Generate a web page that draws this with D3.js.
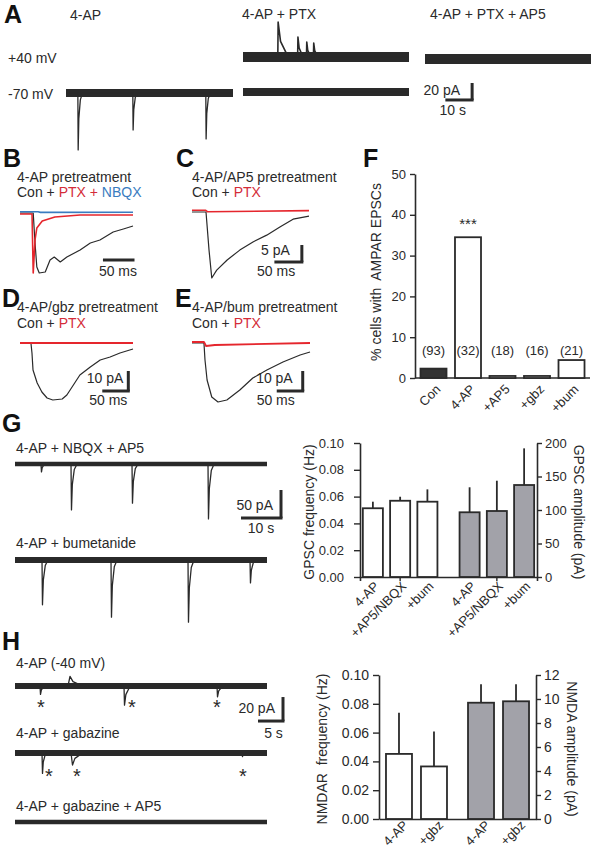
<!DOCTYPE html>
<html><head><meta charset="utf-8">
<script src="https://cdnjs.cloudflare.com/ajax/libs/d3/7.8.5/d3.min.js"></script>
<style>
body{margin:0;background:#fff}
svg{display:block}
text{font-family:"Liberation Sans",Arial,Helvetica,sans-serif}
</style>
</head><body>
<script>
// ================= DATA =================
// Panel A: sweeps of 62 s; events as [time s, amplitude pA, decay s]
const aDuration = 62;
const aEvents4APm70 = [[4.4,-67,0.8],[24.8,-43.5,0.8],[51.9,-54,0.8]];
const aEventsPTXp40 = [[13.0,41,3],[20.4,23.5,1.5],[23.7,17.6,1.2],[26.3,16.5,1.2]];
const aEventsPTXm70 = [];
const aEventsAP5p40 = [];

// Panels B-E: averaged EPSCs, time (ms) and current (pA)
const bTime = [0,20,22,25,28,32,42,50,57,67,78,100,117,133,155,172,188];
const bCon  = [0,0,0,-15,-27,-30,-29.5,-23.5,-22,-24.5,-22,-18.5,-15,-13.5,-9.5,-8,-6.5];
const bPtxTime = [0,20,22,25,28,37,58,100,188];
const bPtx  = [-0.5,-0.5,-30,-13.5,-7.5,-4,-2,-1,-1];
const bNbqxTime = [0,30,34,188];
const bNbqx = [0.6,0.6,0.3,0.4];

const cTime = [0,25.5,31,36,45,64,87,111,136,160,184,213];
const cCon  = [-0.3,-0.3,-11.5,-19.7,-17.4,-14.4,-11.5,-9.1,-7.1,-4.7,-2.4,-1.5];
const cPtxTime = [0,25,28,213];
const cPtx  = [0.2,0.2,-0.2,0.1];

const dTime = [0,21,23,25,33,42,52,63,81,90,100,115,135,154,173,192,217];
const dCon  = [0,0,-5,-13.5,-20,-24.5,-27.5,-28.5,-28,-26,-22,-16,-12,-8.5,-7,-5,-3];
const dPtxTime = [0,217];
const dPtx  = [0,0];

const eTime = [0,23,25,29,38,50,67,92,117,144,175,208,227];
const eCon  = [0,0,-8.5,-18.5,-27,-29.5,-28.5,-23.5,-17.5,-13.5,-9.5,-6,-4.5];
const ePtxTime = [0,23,27,44,227];
const ePtx  = [0.5,0.5,-1.5,-1,0];

// Panel F
const fCategories = ["Con","4-AP","+AP5","+gbz","+bum"];
const fValues = [2.3,34.5,0.5,0.5,4.4];
const fCounts = ["(93)","(32)","(18)","(16)","(21)"];
const fYTicks = [0,10,20,30,40,50];

// Panel G traces: [time s, amplitude pA, decay s]
const gDuration = 63;
const gEventsNBQX = [[6.5,-14,0.6],[14.0,-82,0.7],[29.25,-70,0.7],[48.25,-98,0.7]];
const gEventsBum  = [[6.75,-80,0.7],[24.0,-102,0.7],[43.25,-111,0.7],[58.75,-41,0.7]];
// Panel G bars
const gCategories = ["4-AP","+AP5/NBQX","+bum"];
const gFreq    = [0.0513,0.0569,0.0562];
const gFreqErr = [0.0049,0.0030,0.0092];
const gAmp     = [96.6,98.5,137.3];
const gAmpErr  = [37.3,45.2,54.7];
const gFreqTicks = [0,0.02,0.04,0.06,0.08,0.10];
const gAmpTicks  = [0,50,100,150,200];

// Panel H traces: [time s, amplitude pA, decay s, rise s]
const hDuration = 50.4;
const hEvents40mV = [[5.0,-7,0.6,0.1],[10.6,8,2.0,0.4],[21.8,-16,0.9,0.1],[40.4,-9,0.8,0.1]];
const hStars40mV  = [5.2,23.4,40.4];
const hEventsGbz  = [[5.4,-17,0.5,0.1],[11.2,-10,1.6,0.3],[45.4,-3,0.5,0.1]];
const hStarsGbz   = [6.8,12.4,45.6];
const hEventsAP5  = [];
// Panel H bars
const hCategories = ["4-AP","+gbz"];
const hFreq    = [0.0452,0.0365];
const hFreqErr = [0.0285,0.0242];
const hAmp     = [9.69,9.81];
const hAmpErr  = [1.53,1.41];
const hFreqTicks = [0,0.02,0.04,0.06,0.08,0.10];
const hAmpTicks  = [0,2,4,6,8,10,12];

// ================= DRAWING =================
const W = 592, H = 852;
const INK = "#2a2a2a", BAND = "#2a2a2a", RED = "#e5262d", RED_TXT = "#d42c38", BLUE = "#3a7cc0", GRAY = "#a2a2a9";
const svg = d3.select("body").append("svg").attr("width", W).attr("height", H);

function txt(x, y, s, o = {}) {
  return svg.append("text").attr("x", x).attr("y", y).text(s)
    .attr("font-size", o.size || 14).attr("font-weight", o.weight || null)
    .attr("text-anchor", o.anchor || "start").attr("fill", o.fill || INK);
}
function richTxt(x, y, parts, size = 14) {
  const t = svg.append("text").attr("x", x).attr("y", y).attr("font-size", size).style("white-space", "pre");
  parts.forEach(([s, c]) => t.append("tspan").text(s).attr("fill", c));
  return t;
}
function panel(x0, x1, t1, base, pxPerUnit) {
  return {
    x: d3.scaleLinear().domain([0, t1]).range([x0, x1]),
    y: d3.scaleLinear().domain([0, 1]).range([base, base - pxPerUnit]),
    t1
  };
}
function drawLine(sc, pts, color, width) {
  svg.append("path").datum(pts)
    .attr("d", d3.line().x(d => sc.x(d[0])).y(d => sc.y(d[1])))
    .attr("fill", "none").attr("stroke", color).attr("stroke-width", width)
    .attr("stroke-linejoin", "round");
}
function eventPath(duration, events) {
  const pts = [[0, 0]];
  events.forEach(e => {
    const [t, a, dec, rise = 0.12] = e;
    pts.push([t, 0], [t + rise, a], [t + rise + dec * 0.3, a * 0.45], [t + rise + dec, a * 0.12], [t + rise + dec * 2, 0]);
  });
  pts.push([duration, 0]);
  return pts;
}
function sweep(sc, events, band, lw = 1.3) {
  drawLine(sc, [[0, 0], [sc.t1, 0]], BAND, band);
  drawLine(sc, eventPath(sc.t1, events), INK, lw);
}
function scaleBar(sc, tCorner, iCorner, dt, di, tLabel, iLabel, o = {}) {
  const xc = sc.x(tCorner), yc = sc.y(iCorner);
  const xl = sc.x(tCorner - dt);
  const g = svg.append("g").attr("stroke", INK).attr("stroke-width", 3).attr("fill", "none");
  g.append("line").attr("x1", xl).attr("x2", xc + 1.5).attr("y1", yc).attr("y2", yc);
  if (di) {
    const yt = sc.y(iCorner + di);
    g.append("line").attr("x1", xc).attr("x2", xc).attr("y1", yc).attr("y2", yt);
    txt(xc - (o.iGap || 8), (yc + yt) / 2 + (o.iDy || 5), iLabel, { anchor: "end", size: o.size || 14 });
  }
  txt((xl + xc) / 2 + (o.tDx || 0), yc + (o.tDy || 16), tLabel, { anchor: "middle", size: o.size || 14 });
}
function zipLine(t, v) { return d3.zip(t, v); }
function styleAxis(g, size) {
  g.select(".domain").attr("stroke", INK).attr("stroke-width", 1.6);
  g.selectAll(".tick line").attr("stroke", INK).attr("stroke-width", 1.4);
  g.selectAll(".tick text").attr("fill", INK).attr("font-size", size)
    .attr("font-family", '"Liberation Sans",Arial,sans-serif');
}

// ---------- panel letters ----------
[["A",4,23],["B",3,167],["C",176,167],["D",2,307],["E",175,307],["F",363,167],["G",2,432],["H",2,650]]
  .forEach(([l, x, y]) => txt(x, y, l, { size: 25, weight: "bold", fill: "#111" }));

// ---------- Panel A ----------
txt(70, 20, "4-AP");
txt(242, 19, "4-AP + PTX");
txt(430, 19, "4-AP + PTX + AP5");
txt(8, 63, "+40 mV");
txt(8, 99, "-70 mV");
const pA1 = panel(66, 233, aDuration, 93, 0.85);
const pA2 = panel(243, 409, aDuration, 57, 0.85);
const pA3 = panel(243, 409, aDuration, 92, 0.85);
const pA4 = panel(425, 591, aDuration, 59, 0.85);
sweep(pA1, aEvents4APm70, 8);
sweep(pA2, aEventsPTXp40, 10, 1.6);
sweep(pA3, aEventsPTXm70, 8);
sweep(pA4, aEventsAP5p40, 10);
scaleBar(pA4, 17.6, -48.2, 10, 20, "10 s", "20 pA", { iGap: 12, iDy: 4, tDx: -6, tDy: 15 });

// ---------- Panels B-E ----------
txt(17, 182, "4-AP pretreatment");
richTxt(17, 197, [["Con + ", INK], ["PTX + ", RED_TXT], ["NBQX", BLUE]]);
txt(192, 182, "4-AP/AP5 pretreatment");
richTxt(192, 197, [["Con + ", INK], ["PTX", RED_TXT]]);
txt(17, 312, "4-AP/gbz pretreatment");
richTxt(17, 328, [["Con + ", INK], ["PTX", RED_TXT]]);
txt(192, 312, "4-AP/bum pretreatment");
richTxt(192, 328, [["Con + ", INK], ["PTX", RED_TXT]]);

const pB = panel(20, 133, 188, 213, 2);
const pC = panel(192, 309, 213, 211, 3.4);
const pD = panel(20, 133, 217, 343, 2);
const pE = panel(192, 310, 227, 343, 2);

drawLine(pB, zipLine(bTime, bCon), INK, 1.2);
drawLine(pB, zipLine(bNbqxTime, bNbqx), BLUE, 1.6);
drawLine(pB, zipLine(bPtxTime, bPtx), RED, 1.6);
scaleBar(pB, 188, -23.5, 50, 0, "50 ms", "", { tDy: 16 });

drawLine(pC, zipLine(cTime, cCon), INK, 1.2);
drawLine(pC, zipLine(cPtxTime, cPtx), RED, 1.6);
scaleBar(pC, 200, -15, 50, 5, "50 ms", "5 pA", { iGap: 12, iDy: 1, tDx: -12, tDy: 14 });

drawLine(pD, zipLine(dTime, dCon), INK, 1.2);
drawLine(pD, zipLine(dPtxTime, dPtx), RED, 1.8);
scaleBar(pD, 208, -24, 50, 10, "50 ms", "10 pA", { iGap: 5, iDy: 2, tDx: -7, tDy: 14 });

drawLine(pE, zipLine(eTime, eCon), INK, 1.2);
drawLine(pE, zipLine(ePtxTime, ePtx), RED, 1.8);
scaleBar(pE, 213, -24, 50, 10, "50 ms", "10 pA", { iGap: 10, iDy: 2, tDx: -14, tDy: 14 });

// ---------- Panel F ----------
{
  const x = d3.scaleBand().domain(fCategories).range([415, 590]).paddingInner(0.246).paddingOuter(0.159);
  const y = d3.scaleLinear().domain([0, 50]).range([378, 174]);
  const ax = svg.append("g").attr("transform", "translate(415,0)")
    .call(d3.axisLeft(y).tickValues(fYTicks).tickSize(5).tickSizeOuter(0).tickPadding(4));
  styleAxis(ax, 13);
  svg.append("line").attr("x1", 415).attr("x2", 590).attr("y1", y(0)).attr("y2", y(0)).attr("stroke", INK).attr("stroke-width", 1.6);
  svg.append("g").selectAll("rect").data(fCategories).join("rect")
    .attr("x", d => x(d)).attr("width", x.bandwidth())
    .attr("y", (d, i) => y(fValues[i])).attr("height", (d, i) => y(0) - y(fValues[i]))
    .attr("fill", (d, i) => i === 0 ? "#333" : "#fff").attr("stroke", INK).attr("stroke-width", 1.8);
  fCategories.forEach((c, i) => {
    const cx = x(c) + x.bandwidth() / 2;
    txt(cx, 355, fCounts[i], { anchor: "middle", size: 13 });
    txt(cx + 8, 390, c, { anchor: "end", size: 13 }).attr("transform", `rotate(-45,${cx + 8},390)`);
  });
  txt(x("4-AP") + x.bandwidth() / 2, y(fValues[1]) - 8, "***", { anchor: "middle", size: 15 });
  svg.append("text").attr("transform", "translate(381,272) rotate(-90)").attr("text-anchor", "middle")
    .attr("font-size", 14).attr("fill", INK).style("white-space", "pre").text("% cells with  AMPAR EPSCs");
}

// ---------- Panel G traces ----------
txt(16, 453, "4-AP + NBQX + AP5");
txt(16, 548, "4-AP + bumetanide");
const pG1 = panel(15, 267, gDuration, 464, 0.56);
const pG2 = panel(15, 267, gDuration, 560, 0.56);
sweep(pG1, gEventsNBQX, 4.5);
sweep(pG2, gEventsBum, 6);
scaleBar(pG1, 66.5, -96.4, 10, 50, "10 s", "50 pA", { iGap: 8, iDy: 6, tDx: 0, tDy: 15 });

// ---------- Panel H traces ----------
txt(16, 668, "4-AP (-40 mV)");
txt(16, 738, "4-AP + gabazine");
txt(16, 811, "4-AP + gabazine + AP5");
const pH1 = panel(15, 267, hDuration, 686, 1.2);
const pH2 = panel(15, 267, hDuration, 753, 1.2);
const pH3 = panel(15, 267, hDuration, 822, 1.2);
sweep(pH1, hEvents40mV, 6);
sweep(pH2, hEventsGbz, 6);
sweep(pH3, hEventsAP5, 4.5);
hStars40mV.forEach(t => txt(pH1.x(t), pH1.y(-13) + 12, "*", { anchor: "middle", size: 20 }));
hStarsGbz.forEach(t => txt(pH2.x(t), pH2.y(-15) + 12, "*", { anchor: "middle", size: 20 }));
scaleBar(pH1, 53.6, -29.2, 5, 20, "5 s", "20 pA", { iGap: 8, iDy: 4, tDx: 3, tDy: 17 });

// ---------- dual-axis bar charts ----------
function dualBars(o) {
  const outer = d3.scaleBand().domain(["freq", "amp"]).range([o.xL, o.xR]).paddingInner(0.2).paddingOuter(o.po);
  const inner = d3.scaleBand().domain(o.cats).range([0, outer.bandwidth()]).paddingInner(o.pi2).paddingOuter(o.po2);
  const yL = d3.scaleLinear().domain([0, o.lMax]).range([o.y0, o.y1]);
  const yR = d3.scaleLinear().domain([0, o.rMax]).range([o.y0, o.y1]);
  const axL = svg.append("g").attr("transform", `translate(${o.xL},0)`)
    .call(d3.axisLeft(yL).tickValues(o.lTicks).tickFormat(d3.format(".2f")).tickSize(6).tickSizeOuter(0).tickPadding(o.lPad));
  styleAxis(axL, o.font);
  const axR = svg.append("g").attr("transform", `translate(${o.xR},0)`)
    .call(d3.axisRight(yR).tickValues(o.rTicks).tickSize(5).tickSizeOuter(0).tickPadding(3));
  styleAxis(axR, o.font);
  const axB = svg.append("g").attr("transform", `translate(0,${o.y0})`)
    .call(d3.axisBottom(outer).tickSize(o.groupTicks ? 4 : 0).tickFormat(""));
  styleAxis(axB, o.font);
  [["freq", o.freq, o.freqErr, yL, "#fff"], ["amp", o.amp, o.ampErr, yR, GRAY]].forEach(([grp, vals, errs, ys, fill]) => {
    const gx = outer(grp);
    o.cats.forEach((c, i) => {
      const bx = gx + inner(c), cx = bx + inner.bandwidth() / 2;
      svg.append("line").attr("x1", cx).attr("x2", cx).attr("y1", ys(vals[i])).attr("y2", ys(vals[i] + errs[i]))
        .attr("stroke", INK).attr("stroke-width", 1.8);
      svg.append("rect").attr("x", bx).attr("width", inner.bandwidth())
        .attr("y", ys(vals[i])).attr("height", ys(0) - ys(vals[i]))
        .attr("fill", fill).attr("stroke", INK).attr("stroke-width", 1.8);
      const ax = cx + o.lblDx, ay = o.y0 + o.lblDy;
      txt(ax, ay, c, { anchor: "end", size: o.lblFont }).attr("transform", `rotate(-45,${ax},${ay})`);
    });
  });
  svg.append("text").attr("transform", `translate(${o.lLabX},${(o.y0 + o.y1) / 2 + 2}) rotate(-90)`)
    .attr("text-anchor", "middle").attr("font-size", 14).attr("fill", INK).style("white-space", "pre").text(o.lLabel);
  svg.append("text").attr("transform", `translate(${o.rLabX},${(o.y0 + o.y1) / 2 + 2}) rotate(90)`)
    .attr("text-anchor", "middle").attr("font-size", 14).attr("fill", INK).text(o.rLabel);
}

dualBars({
  cats: gCategories, freq: gFreq, freqErr: gFreqErr, amp: gAmp, ampErr: gAmpErr,
  xL: 360, xR: 537, y0: 577, y1: 443, lMax: 0.1, rMax: 200, lTicks: gFreqTicks, rTicks: gAmpTicks,
  po: 0.015, pi2: 0.264, po2: 0.051, lPad: 10, font: 13, lblFont: 13, groupTicks: true,
  lblDx: 7, lblDy: 10, lLabX: 314, rLabX: 574,
  lLabel: "GPSC frequency (Hz)", rLabel: "GPSC amplitude (pA)"
});
dualBars({
  cats: hCategories, freq: hFreq, freqErr: hFreqErr, amp: hAmp, ampErr: hAmpErr,
  xL: 379, xR: 536, y0: 819, y1: 675, lMax: 0.1, rMax: 12, lTicks: hFreqTicks, rTicks: hAmpTicks,
  po: 0.057, pi2: 0.257, po2: 0.066, lPad: 4, font: 14, lblFont: 13, groupTicks: false,
  lblDx: 10, lblDy: 7, lLabX: 327, rLabX: 567,
  lLabel: "NMDAR  frequency (Hz)", rLabel: "NMDA amplitude (pA)"
});
</script>
</body></html>
